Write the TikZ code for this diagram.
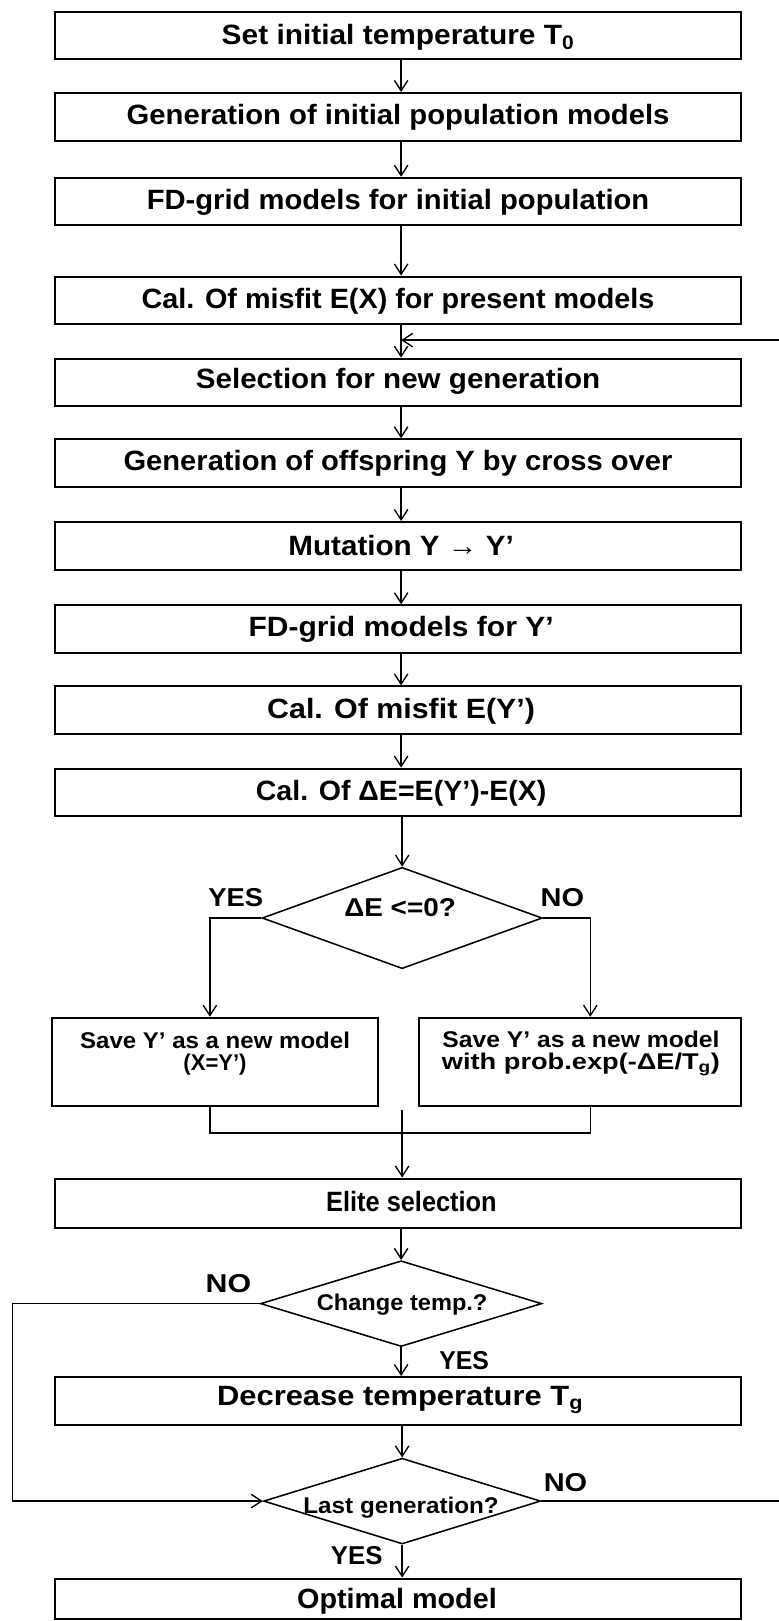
\documentclass[tikz,border=0pt]{standalone}
\usepackage{fontspec}
\usepackage{graphicx}
\setmainfont{Liberation Sans}
\usetikzlibrary{arrows.meta,shapes.geometric,calc}
\newcommand{\fw}[2]{\resizebox{#1pt}{\height}{#2}}
\tikzset{
  box/.style={draw, line width=2pt, minimum width=664pt, minimum height=46pt, inner sep=0pt},
  sbox/.style={draw, line width=2pt, minimum height=85pt, inner sep=0pt},
  dia/.style={draw, diamond, line width=1.5pt, inner sep=0pt, aspect=3},
  big/.style={font=\bfseries\fontsize{27}{30}\selectfont, inner sep=0pt},
  mid/.style={font=\bfseries\fontsize{22}{21}\selectfont, inner sep=0pt, align=center},
  lbl/.style={font=\bfseries\fontsize{25}{28}\selectfont, inner sep=0pt},
  arr/.style={line width=1.3pt, -{Straight Barb[length=10pt,width=13pt,line width=1.3pt]}},
  ln/.style={line width=1.3pt}
}
\begin{document}
\begin{tikzpicture}[x=1pt,y=-1pt]
\useasboundingbox (0,0) rectangle (753,1568);
% main boxes
\node[box] (b1) at (385,34.5) {};
\node[big] (t1) at (385,36) {\fw{341}{Set initial temperature T\textsubscript{0}}};
\node[box] (b2) at (385,113) {};
\node[big] (t2) at (385,113) {\fw{525}{Generation of initial population models}};
\node[box] (b3) at (385,195) {};
\node[big] (t3) at (385,196) {\fw{486}{FD-grid models for initial population}};
\node[box] (b4) at (385,290.5) {};
\node[big] (t4) at (385,291) {\fw{496}{Cal. Of misfit E(X) for present models}};
\node[box] (b5) at (385,370) {};
\node[big] (t5) at (385,369) {\fw{391}{Selection for new generation}};
\node[box] (b6) at (385,448) {};
\node[big] (t6) at (385,448) {\fw{531}{Generation of offspring Y by cross over}};
\node[box] (b7) at (385,528) {};
\node[big] (t7) at (388,528) {\fw{218}{Mutation Y → Y’}};
\node[box] (b8) at (385,608.5) {};
\node[big] (t8) at (388,609) {\fw{295}{FD-grid models for Y’}};
\node[box] (b9) at (385,687) {};
\node[big] (t9) at (388,688) {\fw{259}{Cal. Of misfit E(Y’)}};
\node[box] (b10) at (385,766.5) {};
\node[big] (t10) at (388,767) {\fw{281}{Cal. Of ΔE=E(Y’)-E(X)}};
% decision 1
\node[dia, minimum width=271pt, minimum height=98pt] (d1) at (389,888) {};
\node[lbl] (d1t) at (387,878) {\fw{108}{ΔE <=0?}};
\node[lbl] (yes1) at (228,868) {\fw{53}{YES}};
\node[lbl] (no1) at (544,868) {\fw{42}{NO}};
% save boxes
\node[sbox, minimum width=316pt] (s1) at (208,1027) {};
\node[mid] (s1t) at (208,1019) {\fw{261}{Save Y’ as a new model}\\\fw{61}{(X=Y’)}};
\node[sbox, minimum width=312pt] (s2) at (561,1027) {};
\node[mid] (s2t) at (562,1019) {\fw{268}{Save Y’ as a new model}\\\fw{269}{with prob.exp(-ΔE/T\textsubscript{g})}};
% elite
\node[box, minimum height=48pt] (b11) at (385,1164) {};
\node[big] (t11) at (398,1162) {\fw{165}{Elite selection}};
% decision 2
\node[dia, minimum width=272pt, minimum height=83pt] (d2) at (388,1261) {};
\node[mid] (d2t) at (389,1262) {\fw{165}{Change temp.?}};
\node[lbl] (no2) at (221,1242) {\fw{44}{NO}};
\node[lbl] (yes2) at (449,1316) {\fw{48}{YES}};
% decrease
\node[box] (b12) at (385,1355) {};
\node[big] (t12) at (387,1354) {\fw{354}{Decrease temperature T\textsubscript{g}}};
% decision 3
\node[dia, minimum width=268pt, minimum height=83pt] (d3) at (389,1452) {};
\node[mid] (d3t) at (388,1458) {\fw{189}{Last generation?}};
\node[lbl] (no3) at (547,1434) {\fw{42}{NO}};
\node[lbl] (yes3) at (345,1505) {\fw{50}{YES}};
% optimal
\node[box, minimum height=39pt] (b13) at (385,1546.5) {};
\node[big] (t13) at (384,1549) {\fw{193}{Optimal model}};
% connectors main column
\draw[arr] ([xshift=3pt]b1.south) -- ([xshift=3pt]b2.north);
\draw[arr] ([xshift=3pt]b2.south) -- ([xshift=3pt]b3.north);
\draw[arr] ([xshift=3pt]b3.south) -- ([xshift=3pt]b4.north);
\draw[arr] ([xshift=3pt]b4.south) -- ([xshift=3pt]b5.north);
\draw[arr] ([xshift=3pt]b5.south) -- ([xshift=3pt]b6.north);
\draw[arr] ([xshift=3pt]b6.south) -- ([xshift=3pt]b7.north);
\draw[arr] ([xshift=3pt]b7.south) -- ([xshift=3pt]b8.north);
\draw[arr] ([xshift=3pt]b8.south) -- ([xshift=3pt]b9.north);
\draw[arr] ([xshift=3pt]b9.south) -- ([xshift=3pt]b10.north);
\draw[arr] (b10.south -| d1.north) -- (d1.north);
% branches of decision 1
\draw[arr] (d1.west) -| ([xshift=-5pt]s1.north);
\draw[arr] (d1.east) -| ([xshift=10pt]s2.north);
\coordinate (jr) at (571,1096);
\draw[ln] ([xshift=-5pt]s1.south) |- (jr) -- ([xshift=10pt]s2.south);
\coordinate (js) at (389,1074);
\draw[arr] (js) -- (b11.north -| js);
\draw[arr] (b11.south -| d2.north) -- (d2.north);
% decision 2
\draw[arr] (d2.south) -- (b12.north -| d2.south);
\coordinate (lc) at (12,1452);
\draw[arr] (d2.west) -| (lc) -- (d3.west);
\draw[arr] (b12.south -| d3.north) -- (d3.north);
% decision 3
\draw[arr] (d3.south) -- (b13.north -| d3.south);
\coordinate (rc) at (762,329);
\coordinate (fb) at (388,329);
\draw[arr] (d3.east) -| (rc) -- (fb);
\end{tikzpicture}
\end{document}
